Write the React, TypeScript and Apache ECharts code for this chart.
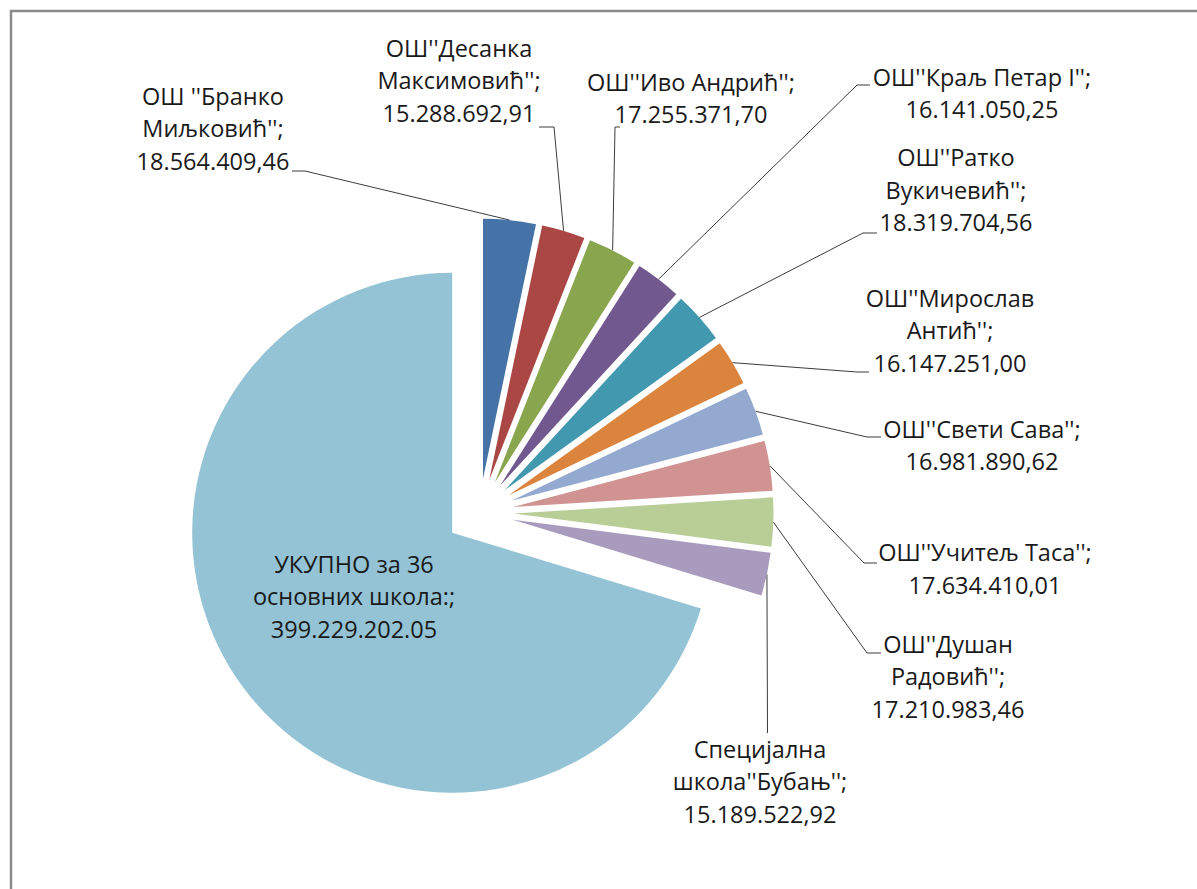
import React, { useEffect, useRef } from "react";
import * as echarts from "echarts";

// ---- data ----
const schoolNames = [
  "ОШ ''Бранко\nМиљковић''",
  "ОШ''Десанка\nМаксимовић''",
  "ОШ''Иво Андрић''",
  "ОШ''Краљ Петар I''",
  "ОШ''Ратко\nВукичевић''",
  "ОШ''Мирослав\nАнтић''",
  "ОШ''Свети Сава''",
  "ОШ''Учитељ Таса''",
  "ОШ''Душан\nРадовић''",
  "Специјална\nшкола''Бубањ''",
  "УКУПНО за 36\nосновних школа:",
];
const amounts = [
  18564409.46, 15288692.91, 17255371.7, 16141050.25, 18319704.56, 16147251.0,
  16981890.62, 17634410.01, 17210983.46, 15189522.92, 399229202.05,
];
const amountTexts = [
  "18.564.409,46", "15.288.692,91", "17.255.371,70", "16.141.050,25", "18.319.704,56",
  "16.147.251,00", "16.981.890,62", "17.634.410,01", "17.210.983,46", "15.189.522,92",
  "399.229.202.05",
];
const sliceColors = [
  "#4572A7", "#AA4643", "#89A54E", "#71588F", "#4198AF", "#DB843D",
  "#93A9CF", "#D19392", "#B9CD96", "#A99BBD", "#93C3D5",
];

// ---- layout (positions of the labels and their leader lines) ----
const CX = 479.5;
const CY = 512.5;
const RADIUS = 260;
const EXPLODE = 34;
const FONT_SIZE = 23.5;
const LINE_H = 32.5;
const BASE_OFFSET = 0.388 * FONT_SIZE; // baseline below line centre

const labelPlaces: { cx: number; b1: number; line?: number[][] }[] = [
  { cx: 213, b1: 105, line: [[305, 171], [292, 171]] },
  { cx: 459, b1: 57, line: [[554, 127], [539, 127]] },
  { cx: 691, b1: 91, line: [[615, 127], [620, 127]] },
  { cx: 982, b1: 86, line: [[857, 85], [870, 85]] },
  { cx: 956, b1: 166.5, line: [[863, 233], [877, 233]] },
  { cx: 950, b1: 307, line: [[857, 372], [869, 372]] },
  { cx: 982, b1: 438, line: [[867, 437], [881, 437]] },
  { cx: 985, b1: 561.5, line: [[864, 563], [877, 563]] },
  { cx: 948, b1: 653, line: [[867, 653], [881, 653]] },
  { cx: 760, b1: 758, line: [[767.5, 733], [767.5, 733]] },
  { cx: 354, b1: 573 },
];

function buildOption() {
  const total = amounts.reduce((a, b) => a + b, 0);
  const hidden = {
    itemStyle: { color: "rgba(0,0,0,0)" },
    label: { show: false },
    labelLine: { show: false },
  };
  let cum = 0;
  const series = amounts.map((v, i) => {
    const before = cum;
    cum += v;
    const after = total - cum;
    const mid = ((before + v / 2) / total) * Math.PI * 2;
    const dx = Math.sin(mid);
    const dy = -Math.cos(mid);
    const center = [CX + EXPLODE * dx, CY + EXPLODE * dy];
    const arcPt = [CX + (EXPLODE + RADIUS) * dx, CY + (EXPLODE + RADIUS) * dy];
    const place = labelPlaces[i];
    const inside = i === amounts.length - 1;
    return {
      type: "pie",
      center,
      radius: RADIUS,
      startAngle: 90,
      clockwise: true,
      silent: true,
      avoidLabelOverlap: false,
      animation: false,
      emphasis: { disabled: true },
      data: [
        { value: before, name: "_b" + i, ...hidden },
        {
          value: v,
          name: schoolNames[i],
          itemStyle: { color: sliceColors[i], borderWidth: 0 },
          label: {
            show: true,
            position: inside ? "inside" : "outside",
            formatter: schoolNames[i] + ";\n" + amountTexts[i],
            color: "#1a1a1a",
            fontFamily: "'Open Sans', sans-serif",
            fontSize: FONT_SIZE,
            lineHeight: LINE_H,
            align: "center",
            textBorderWidth: 0,
          },
          labelLine: {
            show: !inside,
            smooth: false,
            lineStyle: { color: "#3c3c3c", width: 1 },
          },
        },
        { value: after, name: "_a" + i, ...hidden },
      ],
      labelLayout: (p: any) => {
        if (p.dataIndex !== 1) return {};
        const res: any = {
          x: place.cx,
          y: place.b1 - BASE_OFFSET - LINE_H / 2,
          align: "center",
          verticalAlign: "top",
        };
        if (place.line) res.labelLinePoints = [arcPt, ...place.line];
        return res;
      },
    };
  });

  return {
    animation: false,
    backgroundColor: "#ffffff",
    graphic: [
      {
        type: "rect",
        silent: true,
        shape: { x: 11, y: 11, width: 1400, height: 1100 },
        style: { fill: "none", stroke: "#8a8a8a", lineWidth: 2.5 },
      },
    ],
    series,
  };
}

export default function App() {
  const ref = useRef<HTMLDivElement>(null);
  useEffect(() => {
    if (!ref.current) return;
    const chart = echarts.init(ref.current, undefined, { renderer: "svg" });
    chart.setOption(buildOption() as any);
    return () => chart.dispose();
  }, []);
  return (
    <div
      ref={ref}
      style={{ position: "fixed", left: 0, top: 0, width: 1197, height: 889, background: "#fff" }}
    />
  );
}
